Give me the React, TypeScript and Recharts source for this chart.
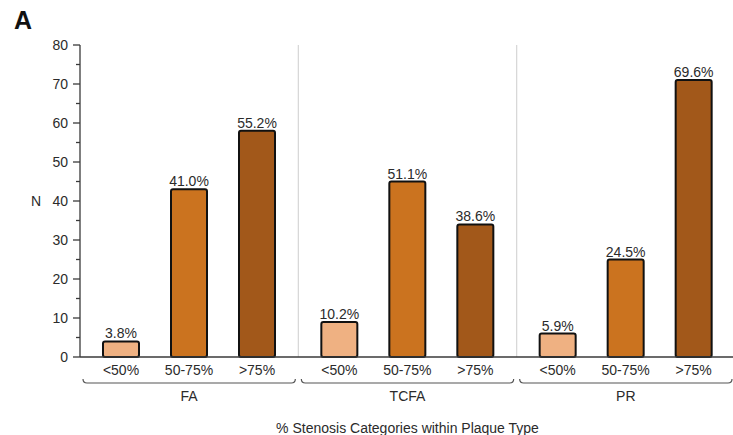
import { BarChart, Bar, XAxis, YAxis, CartesianGrid, LabelList } from "recharts";

// plaque types (groups) and stenosis categories (bars within each group)
const plaqueTypes = ["FA", "TCFA", "PR"];
const stenosisCategories = ["<50%", "50-75%", ">75%"];

// lesion counts per plaque type
const below50 = [4, 9, 6];
const from50to75 = [43, 45, 25];
const above75 = [58, 34, 71];

const yMajorTicks = [0, 10, 20, 30, 40, 50, 60, 70, 80];
const yMinorTicks = [5, 15, 25, 35, 45, 55, 65, 75];

const barColors = ["#EFB182", "#CB731F", "#A2581A"];
const seriesKeys = ["below50", "from50to75", "above75"];

const rows = plaqueTypes.map((type, i) => {
  const counts = [below50[i], from50to75[i], above75[i]];
  const total = counts.reduce((a, b) => a + b, 0);
  const row: Record<string, string | number> = { type };
  seriesKeys.forEach((k, j) => {
    row[k] = counts[j];
    row[k + "Pct"] = ((counts[j] / total) * 100).toFixed(1) + "%";
  });
  return row;
});

const CHART_W = 740;
const CHART_H = 435;
const MARGIN = { top: 45, right: 5, bottom: 0, left: 0 };
const Y_AXIS_W = 80;
const X_AXIS_H = 78;
const PLOT_LEFT = MARGIN.left + Y_AXIS_W;
const PLOT_W = CHART_W - MARGIN.left - MARGIN.right - Y_AXIS_W;
const BAND = PLOT_W / plaqueTypes.length;

const FONT = "'Liberation Sans', Arial, sans-serif";
const TEXT = "#2b2b2b";
const AXIS = "#3a3a3a";

function YTick(props: any) {
  const { x, y, payload } = props;
  const major = payload.value % 10 === 0;
  return (
    <g>
      <line x1={x - (major ? 7 : 4)} x2={x} y1={y} y2={y} stroke={AXIS} strokeWidth={1.3} />
      {major && (
        <text x={x - 12} y={y} dy="0.36em" textAnchor="end" fontSize={14} fill={TEXT} fontFamily={FONT}>
          {payload.value}
        </text>
      )}
    </g>
  );
}

// group label with a bracket spanning the group's band
function GroupTick(props: any) {
  const { x, y, payload } = props;
  const x0 = x - BAND / 2 + 3;
  const x1 = x + BAND / 2 - 3;
  const by = y + 26;
  return (
    <g>
      <path
        d={`M${x0},${by - 4} Q${x0},${by} ${x0 + 4},${by} L${x1 - 4},${by} Q${x1},${by} ${x1},${by - 4}`}
        fill="none"
        stroke="#555"
        strokeWidth={1.2}
      />
      <text x={x} y={y + 44} textAnchor="middle" fontSize={14} fill={TEXT} fontFamily={FONT}>
        {payload.value}
      </text>
    </g>
  );
}

export default function App() {
  const separators = plaqueTypes.slice(1).map((_, i) => PLOT_LEFT + BAND * (i + 1));

  return (
    <div style={{ position: "absolute", left: 0, top: 0, width: 733, height: 435, overflow: "hidden", background: "#fff" }}>
      <div
        style={{
          position: "absolute",
          left: 14,
          top: 6,
          fontFamily: FONT,
          fontWeight: "bold",
          fontSize: 25,
          color: "#111",
        }}
      >
        A
      </div>
      <BarChart
        width={CHART_W}
        height={CHART_H}
        data={rows}
        margin={MARGIN}
        barSize={36}
        barGap={32}
      >
        <CartesianGrid horizontal={false} verticalPoints={separators} stroke="#d6d6d6" strokeWidth={1.2} />
        <XAxis
          dataKey="type"
          height={X_AXIS_H}
          axisLine={{ stroke: AXIS, strokeWidth: 1.3 }}
          tickLine={false}
          tickSize={0}
          tickMargin={0}
          tick={<GroupTick />}
          interval={0}
          label={{
            value: "% Stenosis Categories within Plaque Type",
            position: "insideBottom",
            offset: 2,
            fontSize: 14,
            fill: TEXT,
            fontFamily: FONT,
          }}
        />
        <XAxis
          xAxisId="top"
          dataKey="type"
          orientation="top"
          height={0}
          tick={false}
          tickLine={false}
          axisLine={{ stroke: AXIS, strokeWidth: 1.3 }}
        />
        <YAxis
          width={Y_AXIS_W}
          domain={[0, 80]}
          ticks={[...yMajorTicks, ...yMinorTicks].sort((a, b) => a - b)}
          interval={0}
          tickSize={0}
          tickMargin={0}
          tickLine={false}
          tick={<YTick />}
          axisLine={{ stroke: AXIS, strokeWidth: 1.3 }}
          label={{
            value: "N",
            position: "insideLeft",
            offset: 31,
            fontSize: 14,
            fill: TEXT,
            fontFamily: FONT,
          }}
        />
        {seriesKeys.map((k, j) => (
          <Bar
            key={k}
            dataKey={k}
            fill={barColors[j]}
            stroke="#111"
            strokeWidth={2}
            radius={2}
            isAnimationActive={false}
          >
            <LabelList
              dataKey={k + "Pct"}
              position="top"
              offset={3}
              fontSize={14}
              fill={TEXT}
              fontFamily={FONT}
            />
            <LabelList
              dataKey={k}
              position="bottom"
              offset={8}
              formatter={() => stenosisCategories[j]}
              fontSize={14}
              fill={TEXT}
              fontFamily={FONT}
            />
          </Bar>
        ))}
      </BarChart>
    </div>
  );
}
